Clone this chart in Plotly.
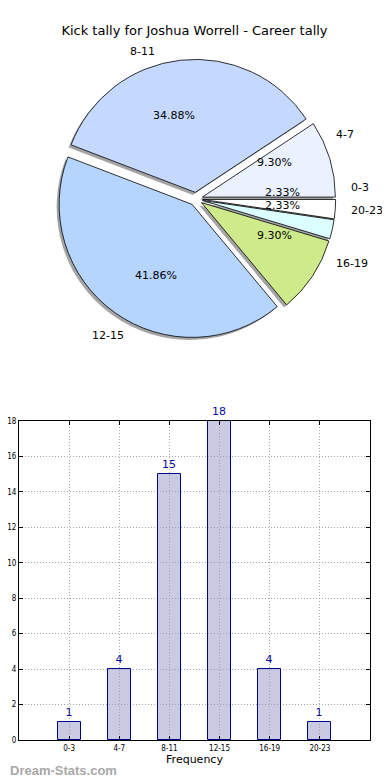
import math
import plotly.graph_objects as go

# ---- data ----
categories = ["0-3", "4-7", "8-11", "12-15", "16-19", "20-23"]
counts = [1, 4, 15, 18, 4, 1]
pie_colors = ["#FFFFFF", "#EAF1FF", "#C5D9FF", "#B5D5FF", "#CFEA8B", "#DBFFFF"]
y_ticks = [0, 2, 4, 6, 8, 10, 12, 14, 16, 18]
title_text = "Kick tally for Joshua Worrell - Career tally"

# ---- layout geometry (page pixels; page body has an 8px margin) ----
OFF = 8
W, H = 390 - OFF, 780 - OFF
ML = 19 - OFF
MR = W - (370 - OFF)
MT = 0
MB = H - (740 - OFF)
PW, PH = W - ML - MR, H - MT - MB
PULL = 0.05
R = 133.0
CX, CY = 196.0 - OFF, 199.0 - OFF


def px2paper(x, y):
    return (x - ML) / PW, (PH + MT - y) / PH


def pie_domain(cx, cy):
    s = R * (1 + PULL)
    x0, y1 = px2paper(cx - s, cy - s)
    x1, y0 = px2paper(cx + s, cy + s)
    return dict(x=[x0, x1], y=[y0, y1])


fig = go.Figure()

# shadow pie
fig.add_trace(go.Pie(
    values=counts, labels=categories, sort=False, direction="counterclockwise",
    rotation=90, pull=[PULL] * len(counts), textinfo="none", hoverinfo="skip",
    marker=dict(colors=["rgba(90,90,90,0.55)"] * len(counts), line=dict(width=0)),
    domain=pie_domain(CX - 2.5, CY + 2.5), showlegend=False,
))
# main pie
fig.add_trace(go.Pie(
    values=counts, labels=categories, sort=False, direction="counterclockwise",
    rotation=90, pull=[PULL] * len(counts), textinfo="none",
    marker=dict(colors=pie_colors, line=dict(color="#000000", width=0.8)),
    domain=pie_domain(CX, CY), showlegend=False,
))

# pie labels computed from the data
total = sum(counts)
annotations = []
start = 0.0
for cat, v in zip(categories, counts):
    frac = v / total
    mid = math.radians((start + frac / 2) * 360)
    start += frac
    c, s = math.cos(mid), math.sin(mid)
    px, py = CX + (PULL + 0.6) * R * c, CY - (PULL + 0.6) * R * s
    xp, yp = px2paper(px, py)
    annotations.append(dict(x=xp, y=yp, xref="paper", yref="paper", text=f"{frac*100:.2f}%",
                            showarrow=False, xanchor="center", yanchor="middle",
                            font=dict(family="DejaVu Sans", size=11, color="#000")))
    lx, ly = CX + (PULL + 1.1) * R * c, CY - (PULL + 1.1) * R * s
    xp, yp = px2paper(lx, ly)
    annotations.append(dict(x=xp, y=yp, xref="paper", yref="paper", text=cat,
                            showarrow=False, xanchor="left" if c > 0 else "right",
                            yanchor="middle",
                            font=dict(family="DejaVu Sans", size=11, color="#000")))

# bar chart
fig.add_trace(go.Bar(
    x=categories, y=counts, width=0.46,
    marker=dict(color="rgba(150,150,200,0.5)", line=dict(color="#00008B", width=1)),
    text=[str(v) for v in counts], textposition="outside", cliponaxis=False,
    textfont=dict(family="DejaVu Sans", size=11, color="#0A0AA0"),
    xaxis="x", yaxis="y", showlegend=False, hoverinfo="x+y",
))

bar_top = px2paper(0, 421 - OFF)[1]
fig.update_layout(
    width=W, height=H,
    margin=dict(l=ML, r=MR, t=MT, b=MB, autoexpand=False),
    paper_bgcolor="white", plot_bgcolor="white",
    title=dict(text=title_text, x=0.5, xref="paper", xanchor="center",
               y=1 - (30 - OFF) / H, yref="container", yanchor="middle",
               font=dict(family="DejaVu Sans", size=13, color="#000")),
    xaxis=dict(domain=[0, 1], anchor="y", range=[-1, 6], type="category",
               automargin=False,
               showline=True, linecolor="#000", linewidth=1, mirror="ticks",
               ticks="inside", ticklen=4, tickcolor="#000",
               showgrid=True, gridcolor="#a8a8a8", griddash="1px,2px", gridwidth=1,
               tickfont=dict(family="DejaVu Sans Condensed", size=8, color="#000"),
               title=dict(text="Frequency", standoff=2,
                          font=dict(family="DejaVu Sans", size=11, color="#000")),
               zeroline=False, fixedrange=True),
    yaxis=dict(domain=[0, bar_top], anchor="x", range=[0, 18], tickvals=y_ticks,
               automargin=False,
               showline=True, linecolor="#000", linewidth=1, mirror="ticks",
               ticks="inside", ticklen=4, tickcolor="#000",
               showgrid=True, gridcolor="#a8a8a8", griddash="1px,2px", gridwidth=1,
               tickfont=dict(family="DejaVu Sans Condensed", size=8, color="#000"),
               zeroline=False, fixedrange=True),
    bargap=0,
)

annotations.append(dict(x=0, y=(PH - (770 - OFF)) / PH, xref="paper", yref="paper",
                        text="<b>Dream-Stats.com</b>",
                        showarrow=False, xanchor="left", yanchor="middle", xshift=-ML,
                        font=dict(family="Liberation Sans", size=13, color="#A8A8A8")))
fig.update_layout(annotations=annotations)

fig.write_html("out.html")
